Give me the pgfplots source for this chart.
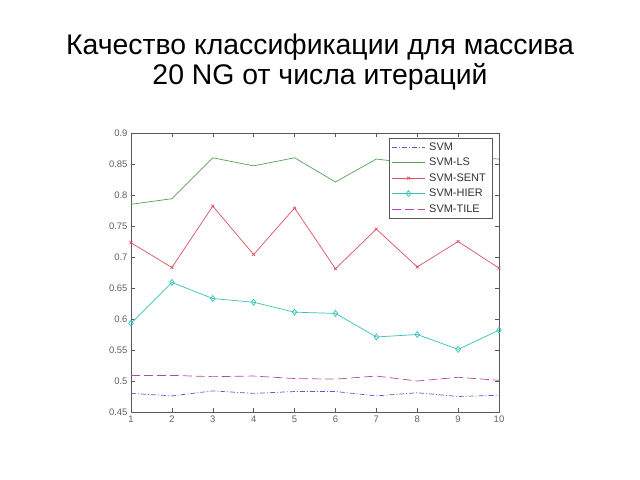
\documentclass[border=0pt]{standalone}
\usepackage{pgfplots}
\pgfplotsset{compat=1.18}
\usepackage{fontspec}
\setmainfont{Liberation Sans}
\definecolor{cblue}{RGB}{90,90,215}
\definecolor{cgreen}{RGB}{85,160,85}
\definecolor{cred}{RGB}{220,80,95}
\definecolor{ccyan}{RGB}{50,195,185}
\definecolor{cpurple}{RGB}{180,70,175}
\begin{document}
\begin{tikzpicture}[x=1bp,y=1bp]
\useasboundingbox (0,0) rectangle (640,480);
\node at (320,433) {\fontsize{28.5}{32}\selectfont Качество классификации для массива};
\node at (320,403) {\fontsize{28.5}{32}\selectfont 20 NG от числа итераций};
\begin{axis}[
  at={(131bp,68bp)}, anchor=south west,
  scale only axis, width=368bp, height=279bp,
  xmin=1, xmax=10, ymin=0.45, ymax=0.9,
  xtick={1,...,10},
  ytick={0.45,0.5,0.55,0.6,0.65,0.7,0.75,0.8,0.85,0.9},
  tick align=inside, tick pos=both,
  major tick length=4bp,
  axis line style={gray!70!black, line width=0.5pt},
  every tick/.style={gray!70!black},
  tick label style={font=\fontsize{9.5}{10}\selectfont\color{gray!75!black}},
  /pgf/number format/assume math mode=true,
  yticklabel style={/pgf/number format/fixed, /pgf/number format/precision=2},
  legend style={at={(0.701,0.982)}, anchor=north west, font=\fontsize{11}{13}\selectfont\color{gray!40!black},
    draw=gray!70!black, fill=white, inner sep=2.5pt, row sep=2.3pt,
    nodes={inner xsep=4pt}},
  legend cell align=left,
  legend image code/.code={\draw[mark repeat=2,mark phase=2,#1] plot coordinates {(0cm,0cm)(0.58cm,0cm)(1.16cm,0cm)};},
]
\addplot[cblue, dash pattern=on 5pt off 2pt on 1pt off 2pt, line width=0.7pt] coordinates {
(1,0.480)(2,0.476)(3,0.484)(4,0.480)(5,0.483)(6,0.483)(7,0.476)(8,0.481)(9,0.475)(10,0.477)};
\addlegendentry{SVM}
\addplot[cgreen, line width=0.7pt] coordinates {
(1,0.785)(2,0.794)(3,0.860)(4,0.847)(5,0.860)(6,0.821)(7,0.858)(8,0.850)(9,0.862)(10,0.858)};
\addlegendentry{SVM-LS}
\addplot[cred, line width=0.7pt, mark=x, mark size=2pt] coordinates {
(1,0.723)(2,0.683)(3,0.782)(4,0.704)(5,0.779)(6,0.681)(7,0.745)(8,0.684)(9,0.725)(10,0.682)};
\addlegendentry{SVM-SENT}
\addplot[ccyan, line width=0.7pt, mark=diamond, mark size=3pt, mark options={solid}] coordinates {
(1,0.593)(2,0.659)(3,0.633)(4,0.627)(5,0.611)(6,0.609)(7,0.571)(8,0.575)(9,0.551)(10,0.582)};
\addlegendentry{SVM-HIER}
\addplot[cpurple, dash pattern=on 9pt off 4pt, line width=0.7pt] coordinates {
(1,0.509)(2,0.509)(3,0.507)(4,0.508)(5,0.504)(6,0.503)(7,0.508)(8,0.500)(9,0.506)(10,0.501)};
\addlegendentry{SVM-TILE}
\end{axis}
\end{tikzpicture}
\end{document}
